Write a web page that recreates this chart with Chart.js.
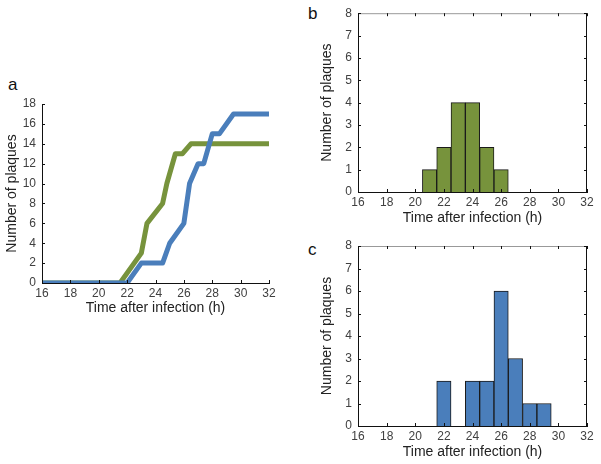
<!DOCTYPE html>
<html>
<head>
<meta charset="utf-8">
<script src="https://cdn.jsdelivr.net/npm/chart.js@4.4.1/dist/chart.umd.min.js"></script>
<style>
  body { margin: 0; background: #fff; width: 601px; height: 464px; position: relative; overflow: hidden; }
  canvas { position: absolute; }
  .lbl { position: absolute; font-family: "Liberation Sans", Arial, sans-serif; font-size: 17px; color: #111; }
</style>
</head>
<body>
<div class="lbl" style="left:8px;top:75px;">a</div>
<div class="lbl" style="left:308px;top:4px;">b</div>
<div class="lbl" style="left:308px;top:240px;">c</div>
<canvas id="chartA" width="280" height="240" style="left:0;top:80px;"></canvas>
<canvas id="chartB" width="300" height="230" style="left:300px;top:0;"></canvas>
<canvas id="chartC" width="300" height="234" style="left:300px;top:230px;"></canvas>
<script>
// panel a: cumulative plaques vs time
var blueX = [16, 22, 23, 24.5, 25, 26, 26.4, 27, 27.4, 28, 28.5, 29.5, 32];
var blueY = [0, 0, 2, 2, 4, 6, 10, 12, 12, 15, 15, 17, 17];
var greenX = [16, 21.5, 23, 23.4, 24.5, 24.8, 25.4, 25.9, 26.5, 32];
var greenY = [0, 0, 3, 6, 8, 10, 13, 13, 14, 14];

// panels b and c: histograms (bin centres, counts)
var binsB = [21, 22, 23, 24, 25, 26];
var countsB = [1, 2, 4, 4, 2, 1];
var binsC = [22, 24, 25, 26, 27, 28, 29];
var countsC = [2, 2, 2, 6, 3, 1, 1];

var xTicks = [16, 18, 20, 22, 24, 26, 28, 30, 32];
var xTitle = "Time after infection (h)";
var yTitle = "Number of plaques";

var green = "#77933c";
var blue = "#4a7ebb";

Chart.defaults.font.family = '"Liberation Sans", Arial, sans-serif';
Chart.defaults.color = "#404040";

function pts(xs, ys) {
  return xs.map(function (x, i) { return { x: x, y: ys[i] }; });
}

// inward tick marks, plus a box frame for the histograms
var frameTicks = {
  id: "frameTicks",
  afterDatasetsDraw: function (chart, args, opts) {
    var ctx = chart.ctx, a = chart.chartArea, x = chart.scales.x, y = chart.scales.y;
    ctx.save();
    ctx.lineWidth = 1;
    if (opts.box) {
      ctx.strokeStyle = "#999";
      ctx.beginPath();
      ctx.moveTo(a.left, a.top + 0.5); ctx.lineTo(a.right, a.top + 0.5);
      ctx.stroke();
      ctx.strokeStyle = "#111";
      ctx.beginPath();
      ctx.moveTo(a.right - 0.5, a.top); ctx.lineTo(a.right - 0.5, a.bottom);
      ctx.stroke();
    }
    ctx.strokeStyle = "#111";
    ctx.beginPath();
    x.ticks.forEach(function (t, i) {
      var px = Math.round(x.getPixelForTick(i)) + 0.5;
      ctx.moveTo(px, a.bottom); ctx.lineTo(px, a.bottom - 3);
      if (opts.box) { ctx.moveTo(px, a.top); ctx.lineTo(px, a.top + 3); }
    });
    y.ticks.forEach(function (t, i) {
      var py = Math.round(y.getPixelForTick(i)) + 0.5;
      ctx.moveTo(a.left, py); ctx.lineTo(a.left + 3, py);
      if (opts.box) { ctx.moveTo(a.right, py); ctx.lineTo(a.right - 3, py); }
    });
    ctx.stroke();
    ctx.restore();
  }
};

function axes(yMax, yStep, yWidth, xHeight, yTitlePad, xTitlePad) {
  return {
    x: {
      type: "linear", min: 16, max: 32, offset: false,
      afterBuildTicks: function (s) { s.ticks = xTicks.map(function (v) { return { value: v }; }); },
      afterFit: function (s) { s.height = xHeight; },
      grid: { display: false, drawTicks: false },
      border: { display: true, color: "#111", width: 1 },
      ticks: { font: { size: 12 }, padding: 3, maxRotation: 0 },
      title: { display: true, text: xTitle, color: "#222", font: { size: 14 }, padding: { top: 0, bottom: xTitlePad } }
    },
    y: {
      min: 0, max: yMax,
      ticks: { stepSize: yStep, font: { size: 12 }, padding: 6 },
      afterFit: function (s) { s.width = yWidth; },
      grid: { display: false, drawTicks: false },
      border: { display: true, color: "#111", width: 1 },
      title: { display: true, text: yTitle, color: "#222", font: { size: 14 }, padding: { top: yTitlePad, bottom: 0 } }
    }
  };
}

new Chart(document.getElementById("chartA"), {
  type: "line",
  data: {
    datasets: [
      { label: "blue", data: pts(blueX, blueY), borderColor: blue, borderWidth: 5, pointRadius: 0, borderJoinStyle: "round", tension: 0 },
      { label: "green", data: pts(greenX, greenY), borderColor: green, borderWidth: 5, pointRadius: 0, borderJoinStyle: "round", tension: 0 }
    ]
  },
  options: {
    responsive: false, animation: false, devicePixelRatio: 1,
    layout: { padding: { left: 0, top: 24, right: 11, bottom: 0 } },
    plugins: { legend: { display: false }, tooltip: { enabled: false }, frameTicks: { box: false } },
    scales: axes(18, 2, 42, 37, 4, 3)
  },
  plugins: [frameTicks]
});

function histogram(id, bins, counts, color, padTop) {
  new Chart(document.getElementById(id), {
    type: "bar",
    data: {
      datasets: [{
        data: pts(bins, counts), backgroundColor: color, borderColor: "#1a1a1a", borderWidth: 1,
        barPercentage: 1, categoryPercentage: 1
      }]
    },
    options: {
      responsive: false, animation: false, devicePixelRatio: 1,
      layout: { padding: { left: 0, top: padTop, right: 13, bottom: 0 } },
      plugins: { legend: { display: false }, tooltip: { enabled: false }, frameTicks: { box: true } },
      scales: axes(8, 1, 58, 38, 19, 3)
    },
    plugins: [frameTicks]
  });
}

histogram("chartB", binsB, countsB, green, 11);
histogram("chartC", binsC, countsC, blue, 16);
</script>
</body>
</html>
